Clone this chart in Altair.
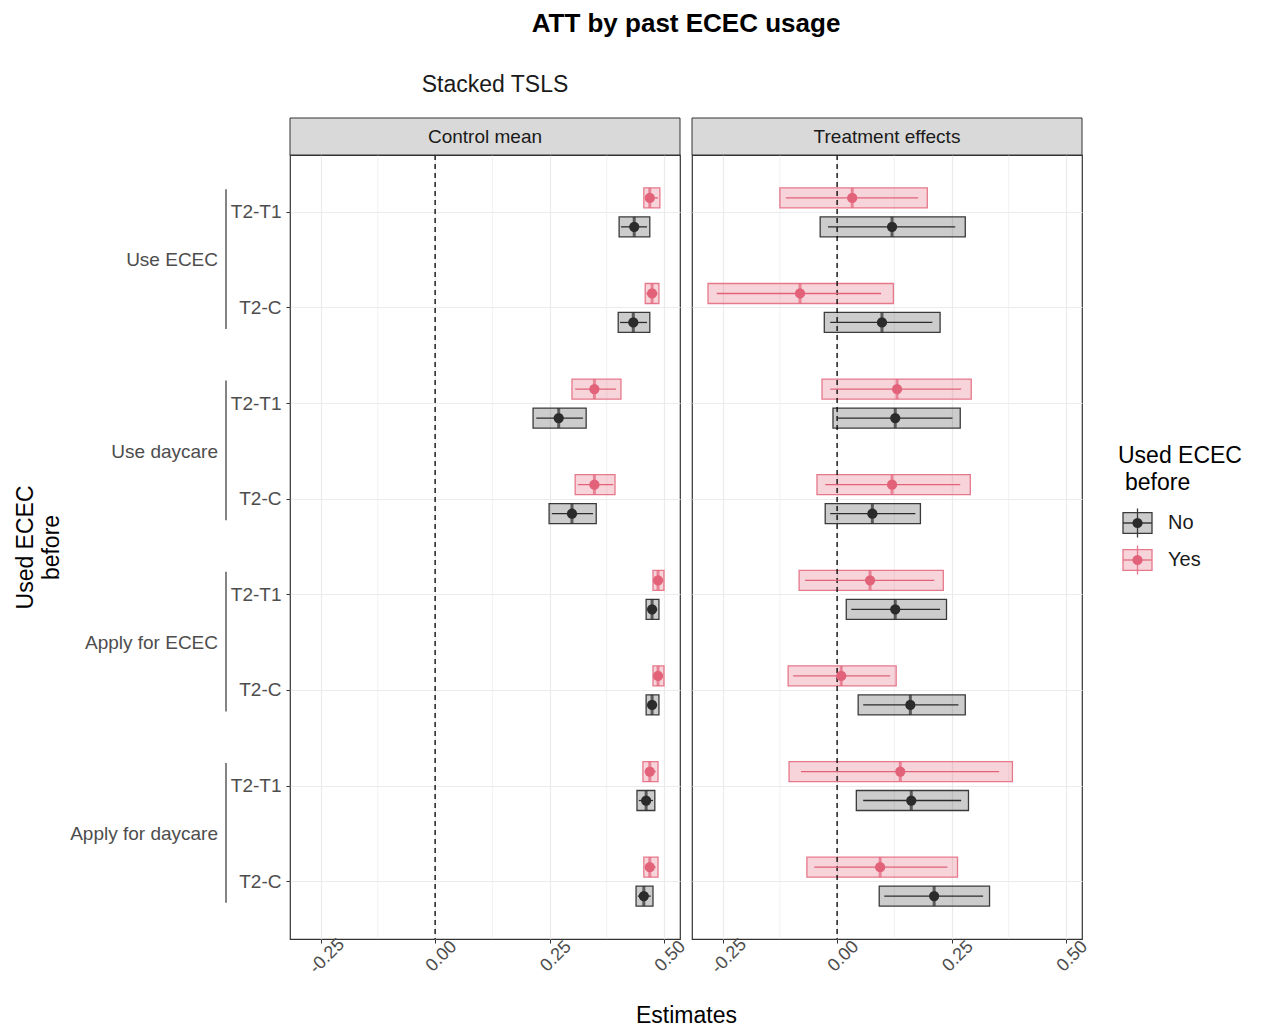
import altair as alt
import pandas as pd

# ---------------- data ----------------
outcomes = ["Use ECEC", "Use daycare", "Apply for ECEC", "Apply for daycare"]
comparisons = ["T2-T1", "T2-C"]
groups = ["Yes", "No"]
panels = ["Control mean", "Treatment effects"]

# order of the 8 rows: outcome x comparison (T2-T1, T2-C)
cm_yes_est = [0.469, 0.474, 0.348, 0.348, 0.487, 0.487, 0.469, 0.469]
cm_yes_box_lo = [0.456, 0.459, 0.299, 0.306, 0.476, 0.476, 0.454, 0.456]
cm_yes_box_hi = [0.491, 0.489, 0.406, 0.393, 0.500, 0.500, 0.487, 0.487]
cm_yes_ci_lo = [0.459, 0.461, 0.306, 0.312, 0.479, 0.479, 0.458, 0.459]
cm_yes_ci_hi = [0.487, 0.486, 0.395, 0.389, 0.496, 0.496, 0.482, 0.482]

cm_no_est = [0.435, 0.433, 0.270, 0.299, 0.474, 0.474, 0.461, 0.456]
cm_no_box_lo = [0.402, 0.400, 0.214, 0.249, 0.461, 0.461, 0.441, 0.439]
cm_no_box_hi = [0.469, 0.469, 0.330, 0.352, 0.489, 0.489, 0.480, 0.476]
cm_no_ci_lo = [0.406, 0.404, 0.221, 0.255, 0.464, 0.464, 0.445, 0.443]
cm_no_ci_hi = [0.463, 0.463, 0.323, 0.345, 0.485, 0.485, 0.476, 0.471]

te_yes_est = [0.033, -0.081, 0.131, 0.120, 0.072, 0.009, 0.138, 0.094]
te_yes_box_lo = [-0.125, -0.282, -0.033, -0.044, -0.083, -0.107, -0.105, -0.066]
te_yes_box_hi = [0.197, 0.123, 0.293, 0.291, 0.232, 0.129, 0.383, 0.263]
te_yes_ci_lo = [-0.112, -0.263, -0.015, -0.026, -0.070, -0.096, -0.079, -0.050]
te_yes_ci_hi = [0.177, 0.096, 0.271, 0.269, 0.212, 0.116, 0.354, 0.241]

te_no_est = [0.120, 0.098, 0.127, 0.077, 0.127, 0.160, 0.162, 0.212]
te_no_box_lo = [-0.037, -0.028, -0.009, -0.026, 0.020, 0.046, 0.042, 0.092]
te_no_box_hi = [0.280, 0.225, 0.269, 0.182, 0.239, 0.280, 0.287, 0.333]
te_no_ci_lo = [-0.020, -0.015, 0.002, -0.015, 0.031, 0.057, 0.057, 0.103]
te_no_ci_hi = [0.258, 0.208, 0.252, 0.171, 0.225, 0.265, 0.271, 0.319]

x_ticks = [-0.25, 0.0, 0.25, 0.5]
x_minor = [-0.125, 0.125, 0.375]

# ---------------- tables ----------------
row_order = [f"{o}|{c}" for o in outcomes for c in comparisons]

series = {
    ("Control mean", "Yes"): (cm_yes_est, cm_yes_box_lo, cm_yes_box_hi, cm_yes_ci_lo, cm_yes_ci_hi),
    ("Control mean", "No"): (cm_no_est, cm_no_box_lo, cm_no_box_hi, cm_no_ci_lo, cm_no_ci_hi),
    ("Treatment effects", "Yes"): (te_yes_est, te_yes_box_lo, te_yes_box_hi, te_yes_ci_lo, te_yes_ci_hi),
    ("Treatment effects", "No"): (te_no_est, te_no_box_lo, te_no_box_hi, te_no_ci_lo, te_no_ci_hi),
}
records = []
for (panel, grp), (est, blo, bhi, clo, chi) in series.items():
    for i, row in enumerate(row_order):
        records.append(dict(panel=panel, row=row, group=grp, est=est[i],
                            box_lo=blo[i], box_hi=bhi[i], ci_lo=clo[i], ci_hi=chi[i]))
df = pd.DataFrame(records)

outer_df = pd.DataFrame({"outcome": outcomes,
                         "row": [f"{o}|T2-T1" for o in outcomes],
                         "row2": [f"{o}|T2-C" for o in outcomes]})
minor_df = pd.DataFrame({"v": x_minor})
zero_df = pd.DataFrame({"v": [0.0]})
legend_df = pd.DataFrame({"group": ["No", "Yes"]})

# ---------------- styling ----------------
FONT = "Liberation Sans"
W, H = 390, 784
grp_dom = ["No", "Yes"]
fill_sc = alt.Scale(domain=grp_dom, range=["rgba(0,0,0,0.2)", "rgba(223,83,107,0.25)"])
stroke_sc = alt.Scale(domain=grp_dom, range=["#3A3A3A", "#E6788B"])
line_sc = alt.Scale(domain=grp_dom, range=["#2B2B2B", "#E2627A"])
pt_sc = alt.Scale(domain=grp_dom, range=["#111111", "#DF536B"])

xs = alt.Scale(domain=[-0.317, 0.535], nice=False, zero=False)


def x_axis(show_title):
    kw = dict(values=x_ticks,
              labelExpr="replace(format(datum.value, '.2f'), '\u2212', '-')",
              labelAngle=-45, labelAlign="center", labelBaseline="middle",
              labelPadding=13, labelOffset=6, labelFontSize=18, labelColor="#4D4D4D",
              labelOverlap=False, labelFlush=False,
              tickColor="#333333", tickSize=4, domain=False,
              grid=True, gridColor="#EBEBEB", gridWidth=1.2)
    if show_title:
        kw.update(title="Estimates", titleFontSize=23, titleFontWeight="normal",
                  titleColor="black", titleX=396, titleY=76, titleBaseline="middle")
    else:
        kw.update(title=None)
    return alt.Axis(**kw)


def y_axis(left):
    if left:
        return alt.Axis(title=["Used ECEC", "before"], titleFontSize=23,
                        titleFontWeight="normal", titleColor="black",
                        titlePadding=167, titleLineHeight=26,
                        labelExpr="split(datum.label, '|')[1]",
                        labelFontSize=19, labelColor="#4D4D4D", labelPadding=5,
                        tickColor="#333333", tickSize=4, domain=False,
                        grid=True, gridColor="#EBEBEB", gridWidth=1.2,
                        bandPosition=0.5)
    return alt.Axis(title=None, labels=False, ticks=False, domain=False,
                    grid=True, gridColor="#EBEBEB", gridWidth=1.2, bandPosition=0.5)


def make_panel(panel, left):
    d = df[df["panel"] == panel]
    xa = x_axis(left)
    ya = y_axis(left)

    def X(f):
        return alt.X(f, scale=xs, axis=xa)

    Y = alt.Y("row:N", sort=row_order,
              scale=alt.Scale(domain=row_order, paddingInner=0, paddingOuter=0.1), axis=ya)
    YO = alt.YOffset("group:N", sort=groups,
                     scale=alt.Scale(domain=groups, paddingInner=0, paddingOuter=0.65))

    base = alt.Chart(d)
    minor = alt.Chart(minor_df).mark_rule(color="#EBEBEB", strokeWidth=0.7).encode(x=X("v:Q"))
    box = base.mark_bar(height=20, strokeWidth=1.3).encode(
        x=X("box_lo:Q"), x2="box_hi:Q", y=Y, yOffset=YO,
        fill=alt.Fill("group:N", scale=fill_sc, legend=None),
        stroke=alt.Stroke("group:N", scale=stroke_sc, legend=None))
    zero = alt.Chart(zero_df).mark_rule(color="black", strokeDash=[5, 4], strokeWidth=1.3).encode(x=X("v:Q"))
    rule = base.mark_rule(strokeWidth=1.3).encode(
        x=X("ci_lo:Q"), x2="ci_hi:Q", y=Y, yOffset=YO,
        color=alt.Color("group:N", scale=line_sc, legend=None))
    tick = base.mark_tick(orient="vertical", size=20, thickness=3).encode(
        x=X("est:Q"), y=Y, yOffset=YO,
        color=alt.Color("group:N", scale=pt_sc, legend=None))
    point = base.mark_circle(size=105, opacity=1).encode(
        x=X("est:Q"), y=Y, yOffset=YO,
        color=alt.Color("group:N", scale=pt_sc, legend=None))

    strip_df = pd.DataFrame({"panel": [panel]})
    strip = alt.Chart(strip_df).mark_rect(fill="#D9D9D9", stroke="#333333", strokeWidth=1).encode(
        x=alt.value(0), x2=alt.value(W), y=alt.value(-37), y2=alt.value(0))
    strip_txt = alt.Chart(strip_df).mark_text(font=FONT, fontSize=19, color="#1A1A1A").encode(
        text="panel:N", x=alt.value(W / 2), y=alt.value(-18))

    layers = [minor, box, zero, rule, tick, point, strip, strip_txt]
    if left:
        outer_txt = alt.Chart(outer_df).mark_text(
            font=FONT, fontSize=19, color="#4D4D4D", align="right", baseline="middle", dy=48
        ).encode(text="outcome:N", y=Y, x=alt.value(-72))
        bracket = alt.Chart(outer_df).mark_rule(
            color="#333333", strokeWidth=1.2, yOffset=-23, y2Offset=21
        ).encode(y=Y, y2="row2:N", x=alt.value(-64))
        title_txt = alt.Chart(strip_df).mark_text(
            font=FONT, fontSize=26, fontWeight="bold", color="black", baseline="middle"
        ).encode(text=alt.value("ATT by past ECEC usage"), x=alt.value(396), y=alt.value(-131))
        sub_txt = alt.Chart(strip_df).mark_text(
            font=FONT, fontSize=23, color="#1A1A1A", baseline="middle"
        ).encode(text=alt.value("Stacked TSLS"), x=alt.value(205), y=alt.value(-70))
        layers += [outer_txt, bracket, title_txt, sub_txt]
    return alt.layer(*layers).properties(width=W, height=H)


left_panel = make_panel("Control mean", True)
right_panel = make_panel("Treatment effects", False)

# ---------------- legend ----------------
LY = alt.Y("group:N", scale=alt.Scale(type="point", domain=grp_dom, range=[368, 405], padding=0),
           axis=None)
lbase = alt.Chart(legend_df)
box_path = "M-1,-0.72H1V0.72H-1Z"
cross_path = "M-1,0H1M0,-1V1"
leg_box = lbase.mark_point(shape=box_path, size=841, strokeWidth=1.3, opacity=1, filled=False).encode(
    y=LY, x=alt.value(43.5),
    fill=alt.Fill("group:N", scale=fill_sc, legend=None),
    stroke=alt.Stroke("group:N", scale=stroke_sc, legend=None))
leg_cross = lbase.mark_point(shape=cross_path, size=841, strokeWidth=1.3, opacity=1).encode(
    y=LY, x=alt.value(43.5),
    stroke=alt.Stroke("group:N", scale=line_sc, legend=None))
leg_dot = lbase.mark_circle(size=105, opacity=1).encode(
    y=LY, x=alt.value(43.5),
    color=alt.Color("group:N", scale=pt_sc, legend=None))
leg_lab = lbase.mark_text(font=FONT, fontSize=20, color="#1A1A1A", align="left", baseline="middle").encode(
    y=LY, x=alt.value(74), text="group:N")
leg_t1 = alt.Chart(pd.DataFrame({"t": ["Used ECEC"]})).mark_text(
    font=FONT, fontSize=23, color="black", align="left", baseline="middle").encode(
    text="t:N", x=alt.value(24), y=alt.value(301))
leg_t2 = alt.Chart(pd.DataFrame({"t": ["before"]})).mark_text(
    font=FONT, fontSize=23, color="black", align="left", baseline="middle").encode(
    text="t:N", x=alt.value(31), y=alt.value(328))
legend = alt.layer(leg_box, leg_cross, leg_dot, leg_lab, leg_t1, leg_t2).properties(
    width=150, height=H, view=alt.ViewBackground(strokeOpacity=0))

chart = alt.hconcat(left_panel, right_panel, legend, spacing=12, bounds="flush").resolve_scale(
    fill="shared", stroke="shared", color="shared"
).properties(
    padding={"left": 5, "top": 2, "right": 2, "bottom": 5}
).configure(font=FONT).configure_view(stroke="#333333", strokeWidth=1.2)

chart.save("out.html", embed_options={"renderer": "svg", "actions": False})
